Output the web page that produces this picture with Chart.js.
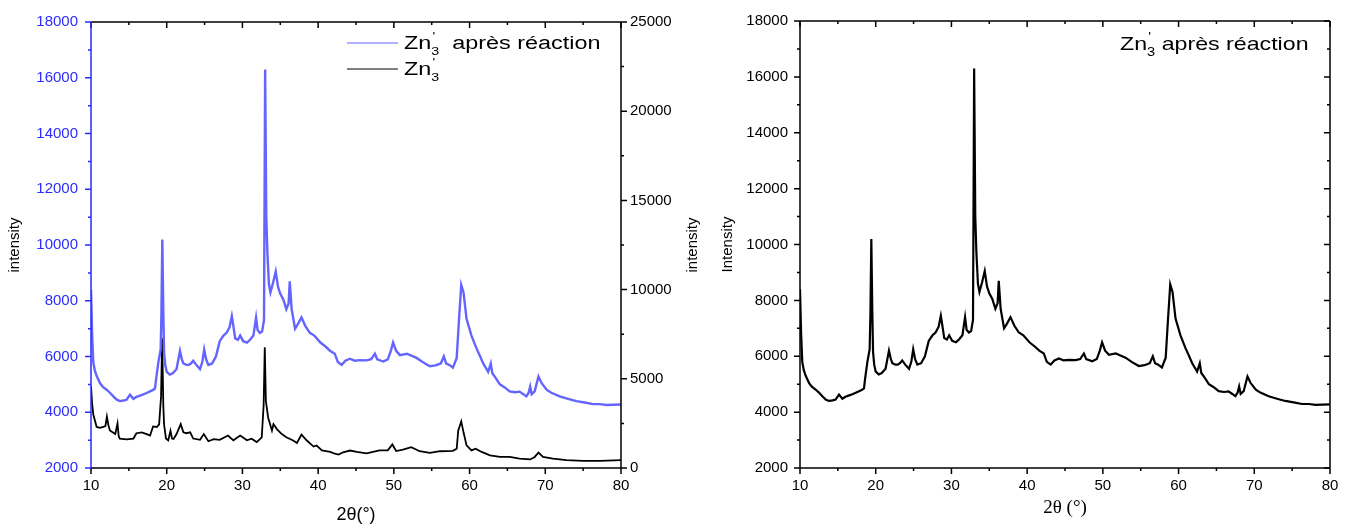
<!DOCTYPE html>
<html>
<head>
<meta charset="utf-8">
<title>DRX Zn'3</title>
<script src="https://cdn.jsdelivr.net/npm/chart.js@4.4.1/dist/chart.umd.min.js"></script>
<style>
    body { margin: 0; background: #fff; }
    #wrap { position: relative; width: 1349px; height: 527px; }
    canvas { position: absolute; top: 0; }
</style>
</head>
<body>
<div id="wrap">
    <canvas id="left-chart" width="708" height="527" style="left:0;width:708px;height:527px"></canvas>
    <canvas id="right-chart" width="641" height="527" style="left:708px;width:641px;height:527px"></canvas>
</div>
<script>
// Zn'3 après réaction (counts, left axis)
const apresAngles = [
    10.0, 10.15, 10.3, 10.5, 10.75, 11.2, 11.6, 12.1, 12.5, 12.95, 13.4, 13.8, 14.3, 14.7, 15.15, 15.6,
    16.0, 16.5, 17.0, 17.35, 17.8, 18.2, 18.45, 18.6, 18.9, 19.2, 19.3, 19.42, 19.55, 19.65, 19.8, 20.0,
    20.4, 20.8, 21.3, 21.75, 22.0, 22.2, 22.6, 22.9, 23.2, 23.5, 23.9, 24.4, 24.7, 24.95, 25.2, 25.5,
    26.0, 26.5, 27.0, 27.5, 27.9, 28.3, 28.6, 28.8, 29.05, 29.4, 29.7, 30.1, 30.6, 31.0, 31.45, 31.8,
    32.0, 32.3, 32.6, 32.85, 33.0, 33.15, 33.3, 33.5, 33.7, 34.05, 34.4, 34.7, 35.0, 35.4, 35.8, 36.1,
    36.25, 36.5, 36.95, 37.3, 37.8, 38.3, 38.9, 39.5, 40.3, 41.0, 41.6, 42.2, 42.6, 43.1, 43.6, 44.2,
    44.8, 45.5, 46.4, 47.0, 47.5, 47.8, 48.6, 49.2, 49.6, 49.9, 50.3, 50.8, 51.7, 52.4, 53.0, 53.8,
    54.75, 55.5, 56.2, 56.6, 56.9, 57.3, 57.8, 58.3, 58.6, 58.9, 59.2, 59.6, 60.25, 60.9, 61.4, 61.8,
    62.45, 62.8, 63.0, 63.4, 64.0, 64.6, 65.3, 66.0, 66.6, 67.1, 67.5, 67.8, 68.0, 68.2, 68.6, 69.1,
    69.5, 70.2, 70.8, 71.9, 73.0, 74.1, 75.2, 76.3, 77.2, 78.1, 79.0, 80.0
];
const apresCounts = [
    8400, 6800, 5800, 5500, 5300, 5040, 4900, 4800, 4700, 4570, 4450, 4400, 4420, 4450, 4630, 4480,
    4550, 4600, 4650, 4690, 4750, 4800, 4850, 5200, 5800, 6250, 7500, 10200, 7600, 6150, 5700, 5450,
    5350, 5400, 5550, 6200, 5900, 5750, 5700, 5700, 5750, 5850, 5700, 5550, 5800, 6250, 5900, 5700,
    5750, 6000, 6550, 6750, 6850, 7050, 7450, 7100, 6650, 6600, 6750, 6550, 6500, 6600, 6750, 7400,
    6950, 6850, 6900, 7300, 16300, 11000, 9700, 8600, 8300, 8650, 9050, 8500, 8250, 8050, 7700, 7900,
    8700, 7700, 7000, 7150, 7400, 7100, 6850, 6750, 6500, 6350, 6200, 6100, 5800, 5700, 5850, 5920,
    5850, 5870, 5860, 5900, 6100, 5900, 5820, 5900, 6200, 6500, 6200, 6050, 6100, 6020, 5950, 5800,
    5650, 5680, 5750, 6000, 5750, 5700, 5600, 5950, 7300, 8570, 8300, 7350, 6750, 6300, 6000, 5750,
    5450, 5750, 5400, 5250, 5000, 4900, 4750, 4720, 4740, 4650, 4570, 4700, 4920, 4650, 4750, 5280,
    5050, 4800, 4700, 4570, 4480, 4400, 4350, 4290, 4290, 4260, 4270, 4280
];

// Zn'3 avant réaction (counts, right axis)
const znAngles = [
    10.0, 10.15, 10.3, 10.75, 11.2, 11.6, 11.9, 12.1, 12.3, 12.5, 13.2, 13.5, 13.65, 13.8, 14.7, 15.6,
    16.0, 16.7, 17.35, 17.8, 18.2, 18.7, 19.0, 19.25, 19.4, 19.55, 19.65, 19.9, 20.2, 20.5, 20.7, 20.9,
    21.3, 21.85, 22.2, 22.6, 23.1, 23.5, 24.4, 24.9, 25.5, 26.2, 27.0, 28.1, 28.8, 29.7, 30.6, 31.2,
    31.9, 32.55, 32.8, 32.95, 33.1, 33.4, 33.9, 34.1, 34.55, 35.2, 35.8, 36.7, 37.2, 37.8, 38.5, 39.4,
    39.8, 40.5, 41.6, 42.2, 42.7, 43.3, 44.2, 45.1, 46.4, 48.1, 49.2, 49.8, 50.3, 51.2, 52.3, 53.4,
    54.75, 56.1, 57.8, 58.3, 58.5, 58.9, 59.2, 59.6, 60.25, 60.8, 61.6, 62.7, 64.0, 65.3, 66.6, 68.0,
    68.6, 69.1, 69.7, 71.0, 72.8, 75.0, 77.2, 80.0
];
const znCounts = [
    4600, 3600, 3000, 2300, 2250, 2300, 2350, 2880, 2400, 2100, 1900, 2500, 1800, 1650, 1600, 1650,
    1950, 2000, 1900, 1820, 2330, 2300, 2450, 4000, 7270, 3500, 2450, 1650, 1550, 2090, 1650, 1630,
    1900, 2460, 2000, 1950, 2000, 1650, 1580, 1900, 1500, 1620, 1580, 1820, 1550, 1820, 1550, 1640,
    1450, 1720, 3500, 6770, 3740, 2820, 2100, 2460, 2180, 1900, 1720, 1540, 1400, 1870, 1540, 1200,
    1260, 990, 900, 800, 750, 880, 980, 900, 820, 990, 990, 1320, 950, 1030, 1170, 940,
    850, 940, 960, 1080, 2090, 2610, 2000, 1270, 990, 1080, 900, 710, 620, 620, 530, 480,
    620, 860, 620, 530, 440, 400, 400, 440
];

const xTicks = [10, 20, 30, 40, 50, 60, 70, 80];
const leftTicks = [2000, 4000, 6000, 8000, 10000, 12000, 14000, 16000, 18000];
const rightTicks = [0, 5000, 10000, 15000, 20000, 25000];

const BLUE_AXIS = '#2b2bff';
const BLUE_LINE = '#6464ff';
const SANS = '"Liberation Sans", Arial, sans-serif';
const SERIF = '"Liberation Serif", "Times New Roman", serif';

const toPoints = (xs, ys) => xs.map((x, i) => ({ x: x, y: ys[i] }));

// frame lines with major/minor tick marks, drawn from the scales
const frameTicks = {
    id: 'frameTicks',
    afterDatasetsDraw(chart, args, opts) {
        const { ctx, chartArea: a } = chart;
        ctx.save();
        ctx.lineWidth = 1.5;
        opts.edges.forEach(e => {
            const s = chart.scales[e.scale];
            const horiz = e.side === 'top' || e.side === 'bottom';
            const pos = a[e.side];
            const outward = (e.side === 'bottom' || e.side === 'right') ? 1 : -1;
            const dir = e.inward ? -outward : outward;
            ctx.strokeStyle = e.color;
            ctx.beginPath();
            if (horiz) { ctx.moveTo(a.left, pos); ctx.lineTo(a.right, pos); }
            else { ctx.moveTo(pos, a.top); ctx.lineTo(pos, a.bottom); }
            for (let v = s.min; v <= s.max + 1e-6; v += e.minor) {
                const p = s.getPixelForValue(v);
                const r = v / e.major;
                const len = Math.abs(r - Math.round(r)) < 1e-6 ? 6 : 3;
                if (horiz) { ctx.moveTo(p, pos); ctx.lineTo(p, pos + dir * len); }
                else { ctx.moveTo(pos, p); ctx.lineTo(pos + dir * len, p); }
            }
            ctx.stroke();
        });
        ctx.restore();
    }
};

// "Zn'3 ..." labels with prime and subscript, plus the rotated right axis title
const znLabels = {
    id: 'znLabels',
    afterDraw(chart, args, opts) {
        const ctx = chart.ctx;
        (opts.sideTitles || []).forEach(t => {
            ctx.save();
            ctx.translate(t.x, (chart.chartArea.top + chart.chartArea.bottom) / 2);
            ctx.rotate(-Math.PI / 2);
            ctx.fillStyle = '#000';
            ctx.textAlign = 'center';
            ctx.textBaseline = 'middle';
            ctx.font = '15px ' + SANS;
            ctx.fillText(t.text, 0, 0);
            ctx.restore();
        });
        opts.items.forEach(it => {
            ctx.save();
            if (it.line) {
                ctx.strokeStyle = it.line.color;
                ctx.lineWidth = 1.2;
                ctx.beginPath();
                ctx.moveTo(it.line.x1, it.line.y);
                ctx.lineTo(it.line.x2, it.line.y);
                ctx.stroke();
            }
            ctx.translate(it.x, it.y);
            ctx.scale(it.sx, 1);
            ctx.fillStyle = '#000';
            ctx.textBaseline = 'alphabetic';
            ctx.textAlign = 'left';
            ctx.font = it.size + 'px ' + SANS;
            ctx.fillText('Zn', 0, 0);
            let w = ctx.measureText('Zn').width;
            const small = Math.round(it.size * 0.62);
            ctx.font = small + 'px ' + SANS;
            ctx.fillText("'", w + 1, -it.size * 0.5);
            ctx.fillText('3', w, it.size * 0.32);
            w += ctx.measureText('3').width;
            if (it.rest) {
                ctx.font = it.size + 'px ' + SANS;
                ctx.fillText(it.rest, w, 0);
            }
            ctx.restore();
        });
    }
};

const plainNumber = value => String(value);

const xScale = (titleText, titleFont, titleBottom) => ({
    type: 'linear',
    position: 'bottom',
    min: 10,
    max: 80,
    afterFit: s => { s.height = 59; },
    afterBuildTicks: s => { s.ticks = xTicks.map(v => ({ value: v })); },
    grid: { display: false, drawTicks: false },
    border: { display: false },
    ticks: { padding: 9, color: '#000', maxRotation: 0, autoSkip: false, callback: plainNumber, font: { family: SANS, size: 15 } },
    title: { display: true, text: titleText, color: '#000', font: titleFont, padding: { top: 0, bottom: titleBottom } }
});

const yScale = (pos, min, max, list, color, width, pad, titleText, titlePad) => ({
    type: 'linear',
    position: pos,
    min: min,
    max: max,
    afterFit: s => { s.width = width; },
    afterBuildTicks: s => { s.ticks = list.map(v => ({ value: v })); },
    grid: { display: false, drawTicks: false },
    border: { display: false },
    ticks: { padding: pad, color: color, callback: plainNumber, font: { family: SANS, size: 15 } },
    title: { display: titleText !== '', text: titleText, color: '#000', font: { family: SANS, size: 15 }, padding: { top: titlePad, bottom: 0 } }
});

document.addEventListener('DOMContentLoaded', () => {

    new Chart(document.getElementById('left-chart'), {
        type: 'line',
        data: {
            datasets: [
                {
                    label: "Zn'3  après réaction",
                    data: toPoints(apresAngles, apresCounts),
                    yAxisID: 'y',
                    borderColor: BLUE_LINE,
                    borderWidth: 2.4,
                    pointRadius: 0,
                    tension: 0
                },
                {
                    label: "Zn'3",
                    data: toPoints(znAngles, znCounts),
                    yAxisID: 'y2',
                    borderColor: '#000',
                    borderWidth: 1.8,
                    pointRadius: 0,
                    tension: 0
                }
            ]
        },
        options: {
            responsive: false,
            animation: false,
            events: [],
            layout: { padding: { top: 14, left: 0, right: 0, bottom: 0 } },
            plugins: {
                legend: { display: false },
                tooltip: { enabled: false },
                frameTicks: {
                    edges: [
                        { scale: 'y2', side: 'right', color: '#000', major: 5000, minor: 2500 },
                        { scale: 'x', side: 'top', color: '#000', major: 10, minor: 5, inward: true },
                        { scale: 'x', side: 'bottom', color: '#000', major: 10, minor: 5 },
                        { scale: 'y', side: 'left', color: BLUE_AXIS, major: 2000, minor: 1000 }
                    ]
                },
                znLabels: {
                    sideTitles: [{ text: 'intensity', x: 693 }],
                    items: [
                        { x: 404, y: 49, size: 18, sx: 1.3, rest: '  après réaction', line: { x1: 347, x2: 398, y: 43, color: BLUE_LINE } },
                        { x: 404, y: 75, size: 18, sx: 1.3, rest: '', line: { x1: 347, x2: 398, y: 69, color: '#000' } }
                    ]
                }
            },
            scales: {
                x: xScale('2θ(°)', { family: SANS, size: 18 }, 1),
                y: yScale('left', 2000, 18000, leftTicks, BLUE_AXIS, 91, 13, 'intensity', 6),
                y2: yScale('right', 0, 25000, rightTicks, '#000', 87, 9, '', 0)
            }
        },
        plugins: [frameTicks, znLabels]
    });

    new Chart(document.getElementById('right-chart'), {
        type: 'line',
        data: {
            datasets: [{
                label: "Zn'3 après réaction",
                data: toPoints(apresAngles, apresCounts),
                borderColor: '#000',
                borderWidth: 2.2,
                pointRadius: 0,
                tension: 0
            }]
        },
        options: {
            responsive: false,
            animation: false,
            events: [],
            layout: { padding: { top: 14, left: 0, right: 19, bottom: 0 } },
            plugins: {
                legend: { display: false },
                tooltip: { enabled: false },
                frameTicks: {
                    edges: [
                        { scale: 'y', side: 'left', color: '#000', major: 2000, minor: 1000 },
                        { scale: 'y', side: 'right', color: '#000', major: 2000, minor: 1000, inward: true },
                        { scale: 'x', side: 'top', color: '#000', major: 10, minor: 5, inward: true },
                        { scale: 'x', side: 'bottom', color: '#000', major: 10, minor: 5 }
                    ]
                },
                znLabels: {
                    items: [
                        { x: 412, y: 50, size: 19, sx: 1.22, rest: ' après réaction' }
                    ]
                }
            },
            scales: {
                x: xScale('2θ (°)', { family: SERIF, size: 19 }, 8),
                y: yScale('left', 2000, 18000, leftTicks, '#000', 92, 12, 'Intensity', 11)
            }
        },
        plugins: [frameTicks, znLabels]
    });
});
</script>
</body>
</html>
